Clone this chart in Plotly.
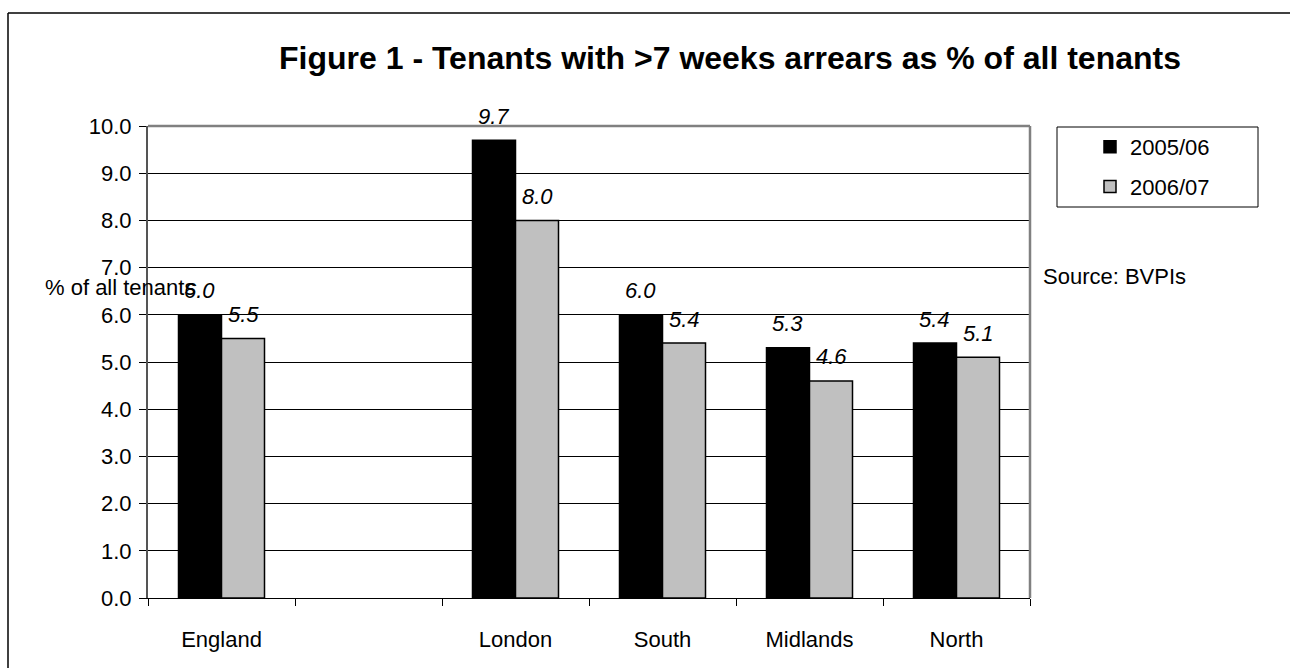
import plotly.graph_objects as go

# Regions (a blank slot separates England from the regional breakdown)
categories = ["England", " ", "London", "South", "Midlands", "North"]
series_names = ["2005/06", "2006/07"]
values_2005 = [6.0, None, 9.7, 6.0, 5.3, 5.4]
values_2006 = [5.5, None, 8.0, 5.4, 4.6, 5.1]
y_ticks = [0, 1, 2, 3, 4, 5, 6, 7, 8, 9, 10]

FONT = "Liberation Sans, Arial, sans-serif"
FS = 22

# Plot area in pixels
W, H = 1290, 668
L, R, T, B = 148, 1030, 126, 598


def px_x(px):
    return (px - L) / (R - L)


def px_y(py):
    return (B - py) / (B - T)


fig = go.Figure()
fig.add_trace(go.Bar(
    x=categories, y=values_2005, name=series_names[0], legendgroup="a",
    marker=dict(color="#000000", line=dict(color="#000000", width=1.5)),
))
fig.add_trace(go.Bar(
    x=categories, y=values_2006, name=series_names[1], legendgroup="b",
    marker=dict(color="#C0C0C0", line=dict(color="#000000", width=1.5)),
))

# Italic value labels above each bar
for vals, shift in ((values_2005, -22), (values_2006, 22)):
    for cat, v in zip(categories, vals):
        if v is None:
            continue
        fig.add_annotation(
            x=cat, y=v, xref="x", yref="y", text=f"<i>{v:.1f}</i>",
            xshift=shift, yshift=24, yanchor="middle", xanchor="center",
            showarrow=False, font=dict(family=FONT, size=FS, color="#000000"),
        )

fig.update_layout(
    width=W, height=H,
    margin=dict(l=L, r=W - R, t=T, b=H - B, autoexpand=False),
    paper_bgcolor="white", plot_bgcolor="white",
    font=dict(family=FONT, size=FS, color="#000000"),
    barmode="group", bargap=0.415, bargroupgap=0,
    title=dict(
        text="<b>Figure 1 - Tenants with >7 weeks arrears as % of all tenants</b>",
        x=730 / W, xanchor="center", y=1 - 58 / H, yanchor="middle",
        font=dict(family=FONT, size=32, color="#000000"),
    ),
    legend=dict(
        x=px_x(1090), y=px_y(126), xanchor="left", yanchor="top",
        borderwidth=0, bgcolor="rgba(0,0,0,0)",
        font=dict(family=FONT, size=FS),
        tracegroupgap=8, itemwidth=30,
    ),
    showlegend=True,
)

fig.update_xaxes(
    type="category", categoryorder="array", categoryarray=categories,
    showline=True, linecolor="#000000", linewidth=1,
    ticks="outside", tickson="boundaries", ticklen=7, tickcolor="#000000",
    showgrid=False, mirror=False,
    tickfont=dict(family=FONT, size=FS), ticklabelstandoff=22,
)
fig.update_yaxes(
    range=[0, 10], tickvals=y_ticks, tickformat=".1f",
    showgrid=True, gridcolor="#000000", gridwidth=1,
    showline=True, linecolor="#555555", linewidth=2,
    ticks="outside", ticklen=7, tickcolor="#000000",
    zeroline=False, tickfont=dict(family=FONT, size=FS), ticklabelstandoff=3,
)

# Grey plot-area frame on the top and right edges
fig.add_shape(type="line", xref="paper", yref="paper", x0=0, x1=1, y0=1, y1=1,
              line=dict(color="#808080", width=2.5))
fig.add_shape(type="line", xref="paper", yref="paper", x0=1, x1=1, y0=0, y1=1,
              line=dict(color="#808080", width=2.5))

# Legend frame
fig.add_shape(type="rect", xref="paper", yref="paper",
              x0=px_x(1057), x1=px_x(1258), y0=px_y(127), y1=px_y(207),
              line=dict(color="#000000", width=1))

# Outer chart frame (left and top edges)
fig.add_shape(type="line", xref="paper", yref="paper",
              x0=px_x(8), x1=px_x(8), y0=px_y(13), y1=px_y(H + 5),
              line=dict(color="#000000", width=1.5))
fig.add_shape(type="line", xref="paper", yref="paper",
              x0=px_x(8), x1=px_x(W + 5), y0=px_y(13), y1=px_y(13),
              line=dict(color="#000000", width=1.5))

fig.add_annotation(
    text="% of all tenants", xref="paper", yref="paper",
    x=px_x(43), y=px_y(287), xanchor="left", yanchor="middle",
    showarrow=False, font=dict(family=FONT, size=FS, color="#000000"),
)
fig.add_annotation(
    text="Source: BVPIs", xref="paper", yref="paper",
    x=px_x(1041), y=px_y(276), xanchor="left", yanchor="middle",
    showarrow=False, font=dict(family=FONT, size=FS, color="#000000"),
)

fig.write_html("out.html")
